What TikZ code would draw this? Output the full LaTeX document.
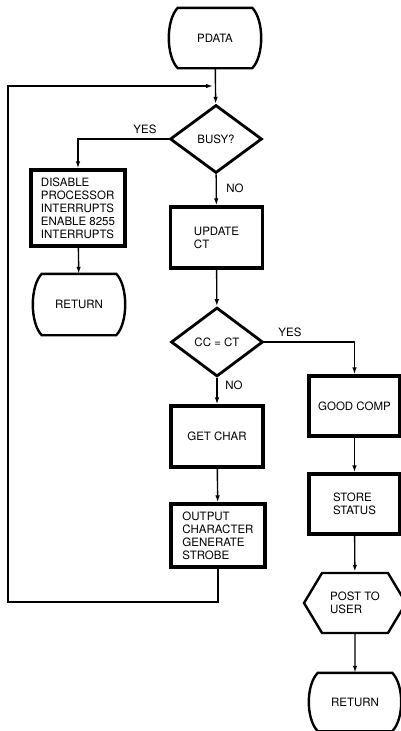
\documentclass[tikz,border=0pt]{standalone}
\usepackage{fontspec}
\setmainfont{TeX Gyre Heros}
\usetikzlibrary{arrows.meta,shapes.geometric,shapes.symbols}
% outline of a terminal: flat top and bottom, bulging sides
\newcommand\drawterm[1]{%
  \draw[line width=2.4pt] ([xshift=8pt]#1.north west) -- ([xshift=-8pt]#1.north east)
    .. controls ([xshift=4pt,yshift=-12pt]#1.north east) and ([xshift=4pt,yshift=12pt]#1.south east)
    .. ([xshift=-8pt]#1.south east) -- ([xshift=8pt]#1.south west)
    .. controls ([xshift=-4pt,yshift=12pt]#1.south west) and ([xshift=-4pt,yshift=-12pt]#1.north west)
    .. cycle;}
\begin{document}
\begin{tikzpicture}[
  x=1pt, y=1pt,
  every node/.style={font=\fontsize{11.5}{13}\selectfont, align=left, inner sep=2pt, text=black},
  proc/.style={draw, line width=3.2pt, minimum width=92pt, minimum height=61pt},
  term/.style={minimum width=90pt, minimum height=60pt},
  dec/.style={draw, line width=2.8pt, diamond, inner sep=0pt, minimum width=92pt, minimum height=68pt},
  hexa/.style={draw, line width=2.4pt, signal, signal to=west and east, signal pointer angle=118, minimum width=102pt, minimum height=60pt},
  flow/.style={line width=1.4pt, -{Latex[length=7pt,width=4.5pt]}}
]
  \useasboundingbox (0,0) rectangle (401,-731);

  % main column
  \node[term] (pdata) at (215,-38) {PDATA};
  \drawterm{pdata}
  \node[dec] (busy) at (216,-139) {BUSY?};
  \draw[flow] (pdata) -- (busy);
  \node[proc, minimum width=94pt, minimum height=76pt] (disable) at (78,-208)
    {DISABLE\\PROCESSOR\\INTERRUPTS\\ENABLE 8255\\INTERRUPTS};
  \draw[flow] (busy.west) -| (disable.north);
  \node (yes1) at (145,-129) {YES};
  \node[term, minimum height=61pt] (ret1) at (79,-304.5) {RETURN};
  \drawterm{ret1}
  \draw[flow] (disable) -- (ret1);
  \node[proc] (update) at (216.5,-237.5) {UPDATE\\CT};
  \draw[flow] (busy) -- (update);
  \node (no1) at (235,-188) {NO};

  \node[dec, minimum height=69pt] (cmp) at (217,-342) {CC = CT};
  \draw[flow] (update) -- (cmp);
  \node[proc] (getchar) at (217,-436.5) {GET CHAR};
  \draw[flow] (cmp) -- (getchar);
  \node (no2) at (234,-385) {NO};
  \node[proc, minimum width=94pt, minimum height=63pt] (output) at (218,-535.5)
    {OUTPUT\\CHARACTER\\GENERATE\\STROBE};
  \draw[flow] (getchar) -- (output);

  % loop back to the top
  \coordinate (lp) at (8,-602);
  \coordinate (join) at (213,-86);
  \draw[flow] (output.south) |- (lp) |- (join);

  % right column
  \node[proc, minimum width=91pt, minimum height=60pt] (good) at (354.5,-406) {GOOD COMP};
  \draw[flow] (cmp.east) -| (good.north);
  \node (yes2) at (290,-332) {YES};
  \node[proc, minimum width=91pt, minimum height=60pt] (store) at (354.5,-504) {STORE\\STATUS};
  \draw[flow] (good) -- (store);
  \node[hexa] (post) at (355,-603) {POST TO\\USER};
  \draw[flow] (store) -- (post);
  \node[term, minimum height=58pt] (ret2) at (355,-702) {RETURN};
  \drawterm{ret2}
  \draw[flow] (post) -- (ret2);
\end{tikzpicture}
\end{document}
